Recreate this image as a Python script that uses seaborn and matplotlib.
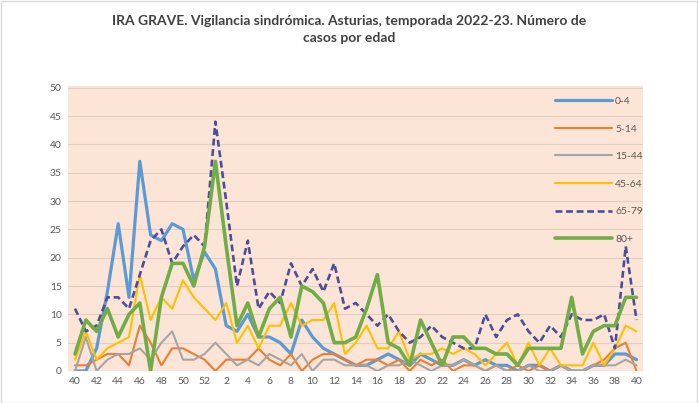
import matplotlib
matplotlib.use("Agg")
import matplotlib.pyplot as plt
import seaborn as sns
from matplotlib.patches import Rectangle

# Epidemiological weeks: 40-52 of 2022, then 1-40 of 2023
weeks = list(range(40, 53)) + list(range(1, 41))

# Cases per week by age group
age_0_4 = [0, 0, 4, 14, 26, 13, 37, 24, 23, 26, 25, 16, 21,
           18, 8, 7, 10, 6, 6, 5, 3, 9, 6, 4, 3, 2, 1, 1, 2, 3, 2, 1, 3, 2, 1, 1, 2, 1, 2,
           1, 1, 0, 1, 1, 0, 1, 0, 0, 1, 1, 3, 3, 2]
age_5_14 = [1, 1, 2, 3, 3, 1, 8, 5, 1, 4, 4, 3, 2,
            0, 2, 2, 2, 4, 2, 1, 3, 0, 2, 3, 3, 2, 1, 2, 2, 1, 2, 0, 2, 1, 2, 0, 1, 1, 0,
            1, 0, 1, 0, 1, 0, 1, 0, 0, 1, 2, 4, 5, 0]
age_15_44 = [0, 6, 0, 2, 3, 3, 4, 2, 5, 7, 2, 2, 3,
             5, 3, 1, 2, 1, 3, 2, 1, 3, 0, 2, 2, 1, 1, 1, 0, 1, 1, 2, 1, 0, 1, 1, 2, 1, 0,
             1, 0, 0, 1, 0, 0, 1, 0, 0, 1, 1, 1, 2, 1]
age_45_64 = [2, 7, 2, 4, 5, 6, 17, 9, 13, 11, 16, 13, 11,
             9, 12, 5, 8, 4, 8, 8, 12, 8, 9, 9, 12, 3, 5, 8, 4, 4, 7, 2, 3, 3, 4, 3, 4, 3, 1,
             3, 5, 1, 5, 1, 4, 1, 1, 1, 5, 1, 4, 8, 7]
age_65_79 = [11, 7, 8, 13, 13, 11, 17, 23, 25, 19, 22, 24, 22,
             44, 30, 15, 23, 11, 14, 12, 19, 15, 18, 14, 19, 11, 12, 10, 8, 10, 7, 5, 6, 8, 6, 5, 4, 4, 10,
             6, 9, 10, 7, 5, 8, 6, 10, 9, 9, 10, 4, 22, 9]
age_80 = [3, 9, 7, 11, 6, 10, 12, 0, 13, 19, 19, 15, 22,
          37, 22, 8, 12, 6, 11, 13, 6, 15, 14, 12, 5, 5, 6, 11, 17, 5, 4, 1, 9, 5, 1, 6, 6, 4, 4,
          3, 3, 1, 4, 4, 4, 4, 13, 3, 7, 8, 8, 13, 13]

series_names = ["0-4", "5-14", "15-44", "45-64", "65-79", "80+"]
series_values = [age_0_4, age_5_14, age_15_44, age_45_64, age_65_79, age_80]
series_colors = ["#5B9BD5", "#ED7D31", "#A5A5A5", "#FFC000", "#4B4F9B", "#70AD47"]
series_widths = [2.3, 1.5, 1.5, 1.5, 1.9, 2.6]

idx = list(range(len(weeks)))

sns.set_style("white")
plt.rcParams["font.family"] = ["Lato", "DejaVu Sans"]

fig = plt.figure(figsize=(6.98, 4.03), dpi=100)
fig.patch.set_facecolor("white")
fig.patches.append(Rectangle((0.001, 0.001), 0.997, 0.996, transform=fig.transFigure,
                             fill=False, edgecolor="#D9D9D9", linewidth=1))

ax = fig.add_axes([68 / 698, 1 - 371 / 403, 575 / 698, 285 / 403])
ax.set_facecolor("#FCE4D6")

for name, vals, col, lw in zip(series_names, series_values, series_colors, series_widths):
    kw = {}
    if name == "65-79":
        kw["dashes"] = (2.6, 1.4)
    sns.lineplot(x=idx, y=vals, ax=ax, color=col, linewidth=lw, label=name, **kw)

ax.set_xlim(-0.65, 52.6)
ax.set_ylim(0, 50.3)
ax.set_yticks(range(0, 51, 5))
ax.set_xticks(idx[::2])
ax.set_xticklabels([str(w) for w in weeks[::2]])
ax.tick_params(axis="both", labelsize=7.5, labelcolor="#595959", length=0, pad=4.5)
ax.grid(axis="y", color="#E3CFC2", linewidth=0.8)
ax.grid(axis="x", visible=False)
for s in ax.spines.values():
    s.set_visible(False)
ax.set_xlabel("")
ax.set_ylabel("")

leg = ax.legend(loc="upper left", bbox_to_anchor=(0.83, 0.995), frameon=False,
                fontsize=7.5, handlelength=5.5, handletextpad=0.3, labelspacing=1.75)
for t in leg.get_texts():
    t.set_color("#595959")

fig.text(0.5, 0.962, "IRA GRAVE. Vigilancia sindrómica. Asturias, temporada 2022-23. Número de\ncasos por edad",
         ha="center", va="top", fontsize=10, fontweight="bold", color="#404040", linespacing=1.5)

fig.savefig("out.png", dpi=100)
